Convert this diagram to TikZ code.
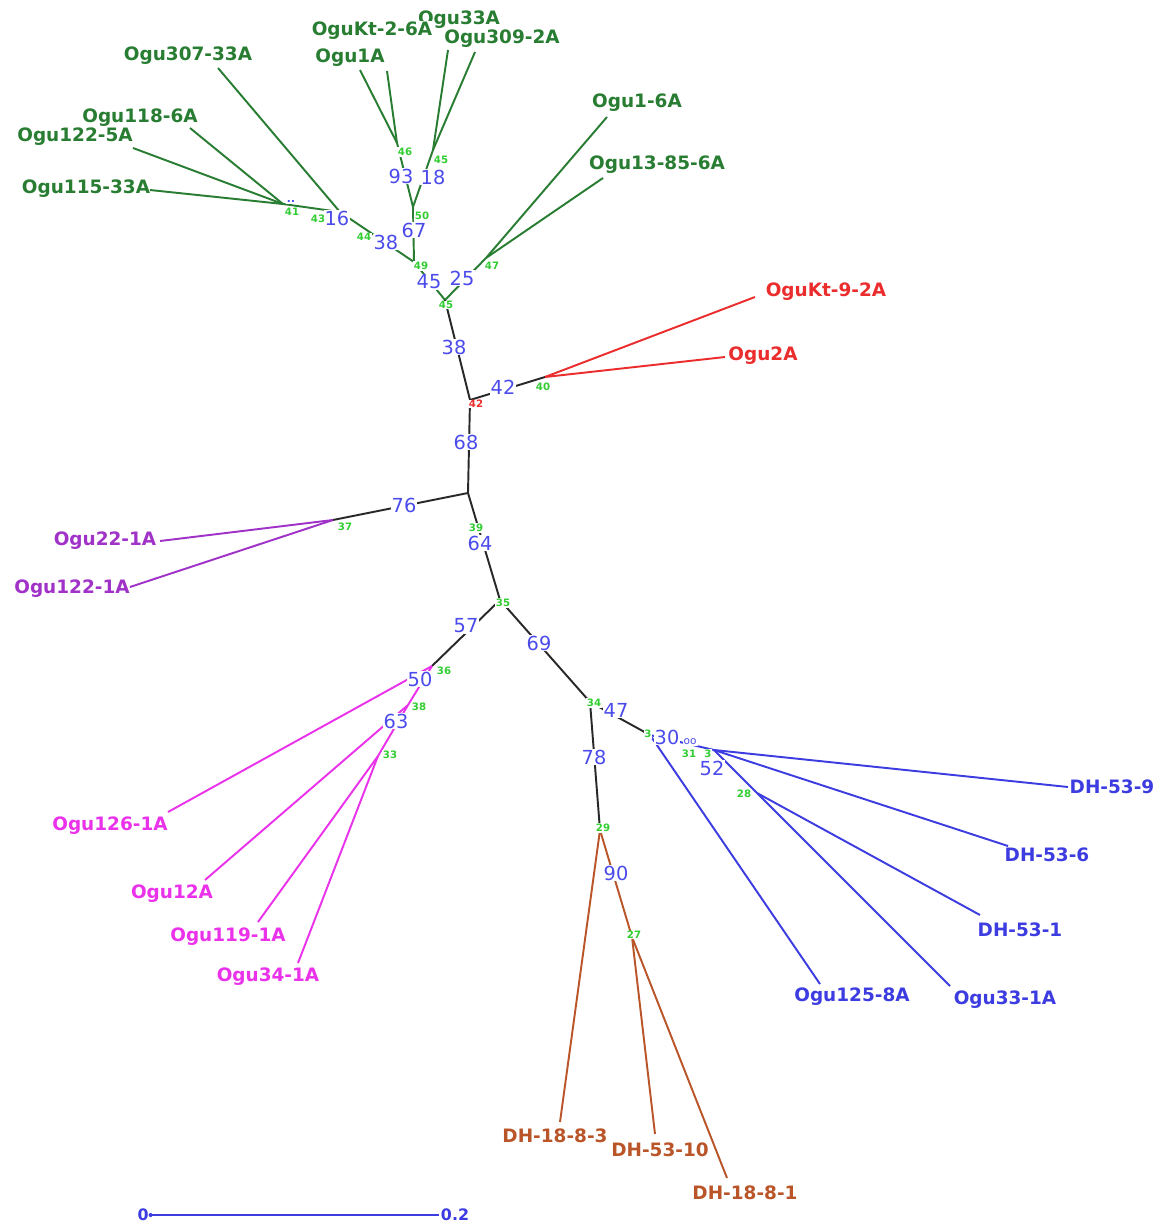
\documentclass[tikz,border=0pt]{standalone}
\usepackage{fontspec}
\setmainfont{DejaVu Sans}
\definecolor{cgreen}{RGB}{40,125,50}
\definecolor{cred}{RGB}{235,45,45}
\definecolor{cpurple}{RGB}{160,50,200}
\definecolor{cpink}{RGB}{235,50,235}
\definecolor{cblue}{RGB}{60,60,225}
\definecolor{cbrown}{RGB}{185,85,40}
\definecolor{cnum}{RGB}{75,75,235}
\definecolor{csmall}{RGB}{50,205,50}
\definecolor{cedge}{RGB}{40,40,40}
\begin{document}
\begin{tikzpicture}[x=0.02cm,y=-0.02cm,
  leaf/.style={font=\fontsize{10.5}{12}\selectfont\bfseries, inner sep=0pt},
  bs/.style={text=cnum, font=\fontsize{11}{12}\selectfont, fill=white, inner sep=0.6pt},
  nd/.style={text=csmall, font=\fontsize{5.8}{6}\selectfont\bfseries, fill=white, inner sep=0.4pt},
  ndr/.style={nd, text=cred},
  br/.style={line width=1.1pt},
]
\useasboundingbox (0,0) rectangle (1158,1227);
\fill[white] (0,0) rectangle (1158,1227);

% internal nodes
\coordinate (A) at (283,204);
\coordinate (B) at (340,212);
\coordinate (C) at (397,143);
\coordinate (D) at (433,150);
\coordinate (E) at (413,207);
\coordinate (F) at (414,262);
\coordinate (G) at (486,258);
\coordinate (H) at (445,300);
\coordinate (I) at (470,400);
\coordinate (J) at (545,377);
\coordinate (K) at (468,493);
\coordinate (L) at (333,520);
\coordinate (M) at (500,600);
\coordinate (N) at (432,666);
\coordinate (N2) at (408,705);
\coordinate (O) at (378,756);
\coordinate (P) at (590,702);
\coordinate (Q) at (600,830);
\coordinate (R) at (650,735);
\coordinate (S) at (714,750);
\coordinate (T) at (757,793);
\coordinate (U) at (632,937);

% leaf line ends
\coordinate (e307) at (218,68);
\coordinate (e118) at (190,128);
\coordinate (e1225) at (133,148);
\coordinate (e115) at (150,190);
\coordinate (e1A) at (360,70);
\coordinate (eKt2) at (387,71);
\coordinate (e33A) at (448,50);
\coordinate (e309) at (475,52);
\coordinate (e16) at (607,117);
\coordinate (e1385) at (603,178);
\coordinate (eKt9) at (755,297);
\coordinate (e2A) at (725,357);
\coordinate (e221) at (160,541);
\coordinate (e1221) at (130,587);
\coordinate (e126) at (168,812);
\coordinate (e12A) at (205,880);
\coordinate (e119) at (258,922);
\coordinate (e34) at (298,963);
\coordinate (e1883) at (560,1122);
\coordinate (e5310) at (655,1134);
\coordinate (e1881) at (727,1178);
\coordinate (e125) at (820,984);
\coordinate (e331) at (950,986);
\coordinate (e531) at (980,915);
\coordinate (e536) at (1008,846);
\coordinate (e539) at (1068,787);

% green clade
\begin{scope}[br, draw=cgreen]
\draw (A) -- (e115); \draw (A) -- (e1225); \draw (A) -- (e118);
\draw (B) -- (e307); \draw (A) -- (B);
\draw (C) -- (e1A); \draw (C) -- (eKt2);
\draw (D) -- (e33A); \draw (D) -- (e309);
\draw (C) -- (E); \draw (D) -- (E);
\draw (E) -- (F); \draw (B) -- (F);
\draw (G) -- (e16); \draw (G) -- (e1385);
\draw (F) -- (H); \draw (G) -- (H);
\end{scope}
% backbone
\begin{scope}[br, draw=cedge]
\draw (H) -- (I); \draw (I) -- (J); \draw (I) -- (K);
\draw (K) -- (L); \draw (K) -- (M); \draw (M) -- (N);
\draw (M) -- (P); \draw (P) -- (Q); \draw (P) -- (R);
\end{scope}
% red
\draw[br, cred] (J) -- (eKt9); \draw[br, cred] (J) -- (e2A);
% purple
\draw[br, cpurple] (L) -- (e221); \draw[br, cpurple] (L) -- (e1221);
% pink
\begin{scope}[br, draw=cpink]
\draw (N) -- (e126); \draw (N) -- (N2); \draw (N2) -- (e12A);
\draw (N2) -- (O); \draw (O) -- (e119); \draw (O) -- (e34);
\end{scope}
% brown
\begin{scope}[br, draw=cbrown]
\draw (Q) -- (e1883); \draw (Q) -- (U); \draw (U) -- (e5310); \draw (U) -- (e1881);
\end{scope}
% blue
\begin{scope}[br, draw=cblue]
\draw (R) -- (e125); \draw (R) -- (S); \draw (S) -- (e539); \draw (S) -- (e536);
\draw (S) -- (T); \draw (T) -- (e531); \draw (T) -- (e331);
\end{scope}

% leaf labels
\node[leaf, text=cgreen] (l307) at (188,56) {Ogu307-33A};
\node[leaf, text=cgreen] (l118) at (140,118) {Ogu118-6A};
\node[leaf, text=cgreen] (l1225) at (75,137) {Ogu122-5A};
\node[leaf, text=cgreen] (l115) at (86,189) {Ogu115-33A};
\node[leaf, text=cgreen] (l1A) at (350,58) {Ogu1A};
\node[leaf, text=cgreen] (l33A) at (459,20) {Ogu33A};
\node[leaf, text=cgreen, fill=white, inner sep=0.5pt] (lKt2) at (372,31) {OguKt-2-6A};
\node[leaf, text=cgreen] (l309) at (502,39) {Ogu309-2A};
\node[leaf, text=cgreen] (l16) at (637,103) {Ogu1-6A};
\node[leaf, text=cgreen] (l1385) at (657,165) {Ogu13-85-6A};
\node[leaf, text=cred] (lKt9) at (826,292) {OguKt-9-2A};
\node[leaf, text=cred] (l2A) at (763,356) {Ogu2A};
\node[leaf, text=cpurple] (l221) at (105,541) {Ogu22-1A};
\node[leaf, text=cpurple] (l1221) at (72,589) {Ogu122-1A};
\node[leaf, text=cpink] (l126) at (110,826) {Ogu126-1A};
\node[leaf, text=cpink] (l12A) at (172,894) {Ogu12A};
\node[leaf, text=cpink] (l119) at (228,937) {Ogu119-1A};
\node[leaf, text=cpink] (l34) at (268,977) {Ogu34-1A};
\node[leaf, text=cbrown] (l1883) at (555,1136) {DH-18-8-3};
\node[leaf, text=cbrown] (l5310) at (660,1150) {DH-53-10};
\node[leaf, text=cbrown] (l1881) at (745,1193) {DH-18-8-1};
\node[leaf, text=cblue] (l125) at (852,997) {Ogu125-8A};
\node[leaf, text=cblue] (l331) at (1005,1000) {Ogu33-1A};
\node[leaf, text=cblue] (l531) at (1020,930) {DH-53-1};
\node[leaf, text=cblue] (l536) at (1047,855) {DH-53-6};
\node[leaf, text=cblue] (l539) at (1112,787) {DH-53-9};

% bootstrap values (blue)
\node[bs] (b93) at (401,176) {93};
\node[bs] (b18) at (433,177) {18};
\node[bs] (b16) at (337,218) {16};
\node[bs] (b38a) at (386,242) {38};
\node[bs] (b67) at (414,230) {67};
\node[bs] (b45) at (429,282) {45};
\node[bs] (b25) at (462,278) {25};
\node[bs] (b38b) at (454,347) {38};
\node[bs] (b42) at (503,387) {42};
\node[bs] (b68) at (466,442) {68};
\node[bs] (b76) at (404,505) {76};
\node[bs] (b64) at (480,543) {64};
\node[bs] (b57) at (466,626) {57};
\node[bs] (b69) at (539,643) {69};
\node[bs] (b50) at (420,679) {50};
\node[bs] (b63) at (396,721) {63};
\node[bs] (b47) at (616,710) {47};
\node[bs] (b78) at (594,757) {78};
\node[bs] (b30) at (667,737) {30};
\node[bs] (b52) at (712,768) {52};
\node[bs] (b90) at (616,873) {90};
\node[bs, font=\fontsize{6}{6}\selectfont\bfseries] (bdd) at (291,202) {..};
\node[bs, font=\fontsize{6}{6}\selectfont] (boo) at (690,742) {oo};

% node numbers (green)
\node[nd] (n46) at (405,152) {46};
\node[nd] (n45a) at (441,160) {45};
\node[nd] (n41) at (292,212) {41};
\node[nd] (n43) at (318,219) {43};
\node[nd] (n44) at (364,237) {44};
\node[nd] (n50) at (422,216) {50};
\node[nd] (n49) at (421,266) {49};
\node[nd] (n45b) at (446,305) {45};
\node[nd] (n47) at (492,266) {47};
\node[nd] (n40) at (543,387) {40};
\node[ndr] (n42) at (476,404) {42};
\node[nd] (n39) at (476,528) {39};
\node[nd] (n37) at (345,527) {37};
\node[nd] (n35) at (503,603) {35};
\node[nd] (n36) at (444,671) {36};
\node[nd] (n38) at (419,707) {38};
\node[nd] (n33) at (390,755) {33};
\node[nd] (n34) at (594,703) {34};
\node[nd] (n3a) at (648,734) {3};
\node[nd] (n31) at (689,754) {31};
\node[nd] (n3b) at (708,754) {3};
\node[nd] (n28) at (744,794) {28};
\node[nd] (n29) at (603,828) {29};
\node[nd] (n27) at (634,935) {27};

% scale bar
\node[text=cblue, font=\fontsize{9}{10}\selectfont\bfseries, inner sep=1pt] (s0) at (143,1215) {0};
\node[text=cblue, font=\fontsize{9}{10}\selectfont\bfseries, inner sep=1pt] (s2) at (455,1215) {0.2};
\draw[cblue, line width=1.1pt] (s0) -- (s2);
\fill[cblue] (s0.east) circle (2);
\end{tikzpicture}
\end{document}
